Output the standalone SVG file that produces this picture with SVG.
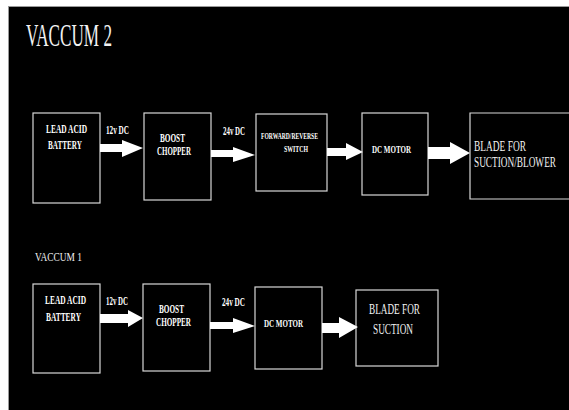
<svg xmlns="http://www.w3.org/2000/svg" width="569" height="410" viewBox="0 0 569 410">
  <style>
    .box { fill: none; stroke: #d8d8d8; stroke-width: 1.2; }
    .arrow { fill: #ffffff; }
    .lbl { fill: #ffffff; font-family: "Liberation Serif", "Times New Roman", serif; font-weight: bold; }
    .big { fill: #f2f2f2; font-family: "Liberation Serif", "Times New Roman", serif; }
  </style>
  <!-- page and black panel -->
  <rect x="0" y="0" width="569" height="410" fill="#ffffff"/>
  <rect x="8.5" y="6.5" width="561" height="404" fill="#000000" stroke="#9a9a9a" stroke-width="1"/>

  <!-- section titles -->
  <text class="big" x="26" y="46" font-size="31" textLength="86" lengthAdjust="spacingAndGlyphs">VACCUM 2</text>
  <text class="big" x="35" y="261" font-size="12" textLength="47" lengthAdjust="spacingAndGlyphs">VACCUM 1</text>

  <!-- VACCUM 2 chain -->
  <g id="v2-battery">
    <rect class="box" x="33" y="113" width="67" height="90"/>
    <text class="lbl" x="46" y="133" font-size="12" textLength="41" lengthAdjust="spacingAndGlyphs">LEAD ACID</text>
    <text class="lbl" x="48" y="149" font-size="12" textLength="34" lengthAdjust="spacingAndGlyphs">BATTERY</text>
  </g>
  <g id="v2-boost">
    <rect class="box" x="144" y="113" width="67" height="87"/>
    <text class="lbl" x="160" y="142" font-size="12" textLength="25" lengthAdjust="spacingAndGlyphs">BOOST</text>
    <text class="lbl" x="157" y="155" font-size="12" textLength="34" lengthAdjust="spacingAndGlyphs">CHOPPER</text>
  </g>
  <g id="v2-switch">
    <rect class="box" x="256" y="114" width="71" height="77"/>
    <text class="lbl" x="261" y="139" font-size="8" textLength="57" lengthAdjust="spacingAndGlyphs">FORWARD/REVERSE</text>
    <text class="lbl" x="284" y="152" font-size="9" textLength="24" lengthAdjust="spacingAndGlyphs">SWITCH</text>
  </g>
  <g id="v2-motor">
    <rect class="box" x="362" y="113" width="66" height="82"/>
    <text class="lbl" x="372" y="153" font-size="11" textLength="39" lengthAdjust="spacingAndGlyphs">DC MOTOR</text>
  </g>
  <g id="v2-blade">
    <path class="box" d="M570 113 H470 V199 H570"/>
    <text class="big" x="474" y="151" font-size="14" textLength="52" lengthAdjust="spacingAndGlyphs">BLADE FOR</text>
    <text class="big" x="474" y="167" font-size="14" textLength="82" lengthAdjust="spacingAndGlyphs">SUCTION/BLOWER</text>
  </g>

  <!-- VACCUM 1 chain -->
  <g id="v1-battery">
    <rect class="box" x="33" y="284" width="67" height="89"/>
    <text class="lbl" x="45" y="304" font-size="12" textLength="41" lengthAdjust="spacingAndGlyphs">LEAD ACID</text>
    <text class="lbl" x="46" y="321" font-size="12" textLength="35" lengthAdjust="spacingAndGlyphs">BATTERY</text>
  </g>
  <g id="v1-boost">
    <rect class="box" x="143" y="284" width="67" height="87"/>
    <text class="lbl" x="159" y="313" font-size="12" textLength="25" lengthAdjust="spacingAndGlyphs">BOOST</text>
    <text class="lbl" x="156" y="326" font-size="12" textLength="35" lengthAdjust="spacingAndGlyphs">CHOPPER</text>
  </g>
  <g id="v1-motor">
    <rect class="box" x="255" y="287" width="67" height="82"/>
    <text class="lbl" x="264" y="327" font-size="11" textLength="39" lengthAdjust="spacingAndGlyphs">DC MOTOR</text>
  </g>
  <g id="v1-blade">
    <rect class="box" x="356" y="290" width="82" height="76"/>
    <text class="big" x="369" y="314" font-size="14" textLength="51" lengthAdjust="spacingAndGlyphs">BLADE FOR</text>
    <text class="big" x="373" y="334" font-size="14" textLength="40" lengthAdjust="spacingAndGlyphs">SUCTION</text>
  </g>

  <!-- block arrows between stages, with their voltage labels -->
  <g id="connectors">
    <polygon class="arrow" points="100,144 122,144 122,140 143,148 122,157 122,152 100,152"/>
    <polygon class="arrow" points="211,150 233,150 233,147 255,155 233,162 233,157 211,157"/>
    <polygon class="arrow" points="327,148 346,148 346,143 363,152 346,160 346,156 327,156"/>
    <polygon class="arrow" points="428,147 450,147 450,142 470,153 450,164 450,159 428,159"/>

    <polygon class="arrow" points="100,314 128,314 128,310 143,318 128,327 128,323 100,323"/>
    <polygon class="arrow" points="210,322 233,322 233,318 255,326 233,333 233,329 210,329"/>
    <polygon class="arrow" points="322,323 339,323 339,317 358,327 339,338 339,333 322,333"/>

    <text class="lbl" x="106" y="134" font-size="12" textLength="23" lengthAdjust="spacingAndGlyphs">12v DC</text>
    <text class="lbl" x="223" y="135" font-size="12" textLength="22" lengthAdjust="spacingAndGlyphs">24v DC</text>
    <text class="lbl" x="106" y="305" font-size="12" textLength="22" lengthAdjust="spacingAndGlyphs">12v DC</text>
    <text class="lbl" x="222" y="306" font-size="12" textLength="23" lengthAdjust="spacingAndGlyphs">24v DC</text>
  </g>
</svg>
